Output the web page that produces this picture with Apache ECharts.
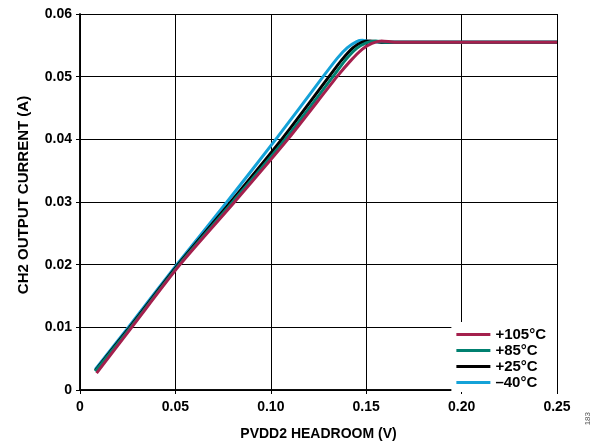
<!DOCTYPE html>
<html><head><meta charset="utf-8">
<script src="https://cdn.jsdelivr.net/npm/echarts@6/dist/echarts.min.js"></script>
<style>html,body{margin:0;padding:0;background:#fff}#c{width:599px;height:446px}</style>
</head><body><div id="c"></div>
<script>
const xM40 = [0.008,0.0253,0.0507,0.077,0.1034,0.1274,0.135,0.140,0.145,0.148,0.152,0.160,0.25];
const yM40 = [0.0033,0.0100,0.0200,0.0300,0.0403,0.0500,0.0530,0.0546,0.0556,0.0558,0.0556,0.0555,0.0555];
const x25 = [0.008,0.0260,0.0514,0.079,0.1060,0.1305,0.137,0.143,0.148,0.152,0.158,0.25];
const y25 = [0.0031,0.0100,0.0200,0.0300,0.0401,0.0500,0.0526,0.0546,0.0555,0.0557,0.0555,0.0555];
const x85 = [0.008,0.0265,0.0519,0.080,0.1075,0.1326,0.139,0.145,0.150,0.155,0.160,0.25];
const y85 = [0.0030,0.0100,0.0200,0.0300,0.0400,0.0500,0.0526,0.0545,0.0554,0.0557,0.0555,0.0555];
const x105 = [0.0087,0.0271,0.0524,0.081,0.1089,0.1347,0.142,0.148,0.153,0.158,0.165,0.25];
const y105 = [0.0027,0.0100,0.0200,0.0300,0.0400,0.0500,0.0526,0.0544,0.0553,0.0557,0.0555,0.0555];
const names = ['+105°C','+85°C','+25°C','–40°C'];
const colors = ['#a4204d','#008070','#000000','#14a2d8'];
const xTicks = ['0','0.05','0.10','0.15','0.20','0.25'];
const yTicks = ['0','0.01','0.02','0.03','0.04','0.05','0.06'];

const pairs = (xs, ys) => xs.map((x, i) => [x, ys[i]]);
const font = {fontFamily:'Liberation Sans, Arial', fontWeight:'bold', fontSize:14, color:'#000'};
const line = {lineStyle:{color:'#000', width:1}};
const frame = {lineStyle:{color:'#000', width:1.5}};
const tick = {show:true, inside:true, length:4, lineStyle:{color:'#000'}};

const chart = echarts.init(document.getElementById('c'), null, {renderer:'canvas'});
const mk = (name, color, data, z) => ({
  name, type:'line', data, smooth:0.25, showSymbol:false, symbol:'none', z,
  lineStyle:{color, width:3}, itemStyle:{color}, animation:false
});
chart.setOption({
  animation:false,
  grid:{left:80, right:42, top:14, bottom:53, show:false},
  legend:{
    data:names, orient:'vertical', right:42, bottom:54, backgroundColor:'#fff',
    itemWidth:34, itemHeight:3, itemGap:1, padding:[5,11,2,5],
    icon:'rect', textStyle:Object.assign({}, font, {fontSize:15})
  },
  xAxis:[{
    type:'value', min:0, max:0.25, interval:0.05, position:'bottom',
    axisLine:Object.assign({show:true}, frame), axisTick:tick,
    splitLine:Object.assign({show:true}, line),
    axisLabel:Object.assign({margin:10, formatter:(v)=>xTicks[Math.round(v/0.05)]}, font),
    name:'PVDD2 HEADROOM (V)', nameLocation:'middle', nameGap:37,
    nameTextStyle:Object.assign({}, font, {fontSize:14})
  },{
    type:'value', min:0, max:0.25, interval:0.05, position:'top',
    axisLine:Object.assign({show:true}, frame), axisTick:tick,
    axisLabel:{show:false}, splitLine:{show:false}
  }],
  yAxis:[{
    type:'value', min:0, max:0.06, interval:0.01, position:'left',
    axisLine:Object.assign({show:true}, frame), axisTick:tick,
    splitLine:Object.assign({show:true}, line),
    axisLabel:Object.assign({margin:8, formatter:(v)=>yTicks[Math.round(v/0.01)]}, font),
    name:'CH2 OUTPUT CURRENT (A)', nameLocation:'middle', nameGap:49, nameRotate:90,
    nameTextStyle:Object.assign({}, font, {fontSize:15, padding:[0,0,0,14]})
  },{
    type:'value', min:0, max:0.06, interval:0.01, position:'right',
    axisLine:Object.assign({show:true}, frame), axisTick:tick,
    axisLabel:{show:false}, splitLine:{show:false}
  }],
  graphic:[{
    type:'text', left:584, top:412, rotation:Math.PI/2,
    style:{text:'183', font:'8px Liberation Sans, Arial', fill:'#555'}
  }],
  series:[
    mk('–40°C', colors[3], pairs(xM40, yM40), 2),
    mk('+25°C', colors[2], pairs(x25, y25), 3),
    mk('+85°C', colors[1], pairs(x85, y85), 4),
    mk('+105°C', colors[0], pairs(x105, y105), 5)
  ]
});
</script></body></html>
